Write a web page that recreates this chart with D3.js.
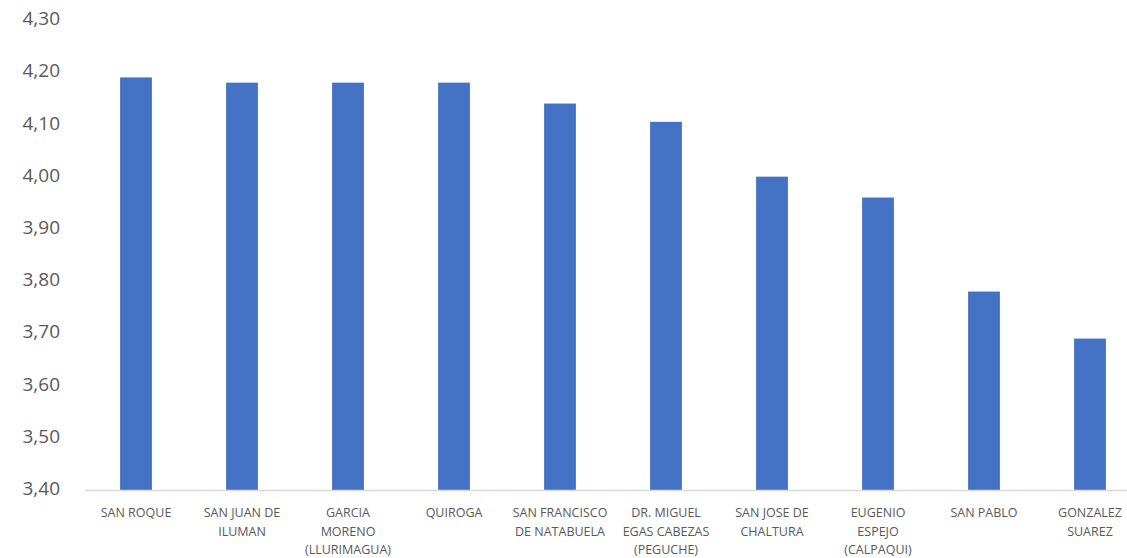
<!DOCTYPE html>
<meta charset="utf-8">
<script src="https://d3js.org/d3.v7.min.js"></script>
<style>
  body { margin: 0; background: #fff; }
  text { font-family: 'Open Sans', sans-serif; fill: #595959; }
</style>
<body>
<div id="my_dataviz"></div>
<script>

// categories (lines of each label) and values
var parishes = [
  ["SAN ROQUE"],
  ["SAN JUAN DE", "ILUMAN"],
  ["GARCIA", "MORENO", "(LLURIMAGUA)"],
  ["QUIROGA"],
  ["SAN FRANCISCO", "DE NATABUELA"],
  ["DR. MIGUEL", "EGAS CABEZAS", "(PEGUCHE)"],
  ["SAN JOSE DE", "CHALTURA"],
  ["EUGENIO", "ESPEJO", "(CALPAQUI)"],
  ["SAN PABLO"],
  ["GONZALEZ", "SUAREZ"]
];
var scores = [4.19, 4.18, 4.18, 4.18, 4.14, 4.105, 4.00, 3.96, 3.78, 3.69];
var yTicks = [3.4, 3.5, 3.6, 3.7, 3.8, 3.9, 4.0, 4.1, 4.2, 4.3];

var width = 1127, height = 558;
var plotLeft = 83, plotRight = 1143, plotTop = 20, plotBottom = 490;

var svg = d3.select("#my_dataviz")
  .append("svg")
    .attr("width", width)
    .attr("height", height);

var keys = parishes.map(function(d) { return d.join(" "); });

var x = d3.scaleBand()
  .domain(keys)
  .range([plotLeft, plotRight])
  .paddingInner(0.7)
  .paddingOuter(0.35);

var y = d3.scaleLinear()
  .domain([3.4, 4.3])
  .range([plotBottom, plotTop]);

// y tick labels (no axis line, no gridlines)
svg.append("g")
  .selectAll("text")
  .data(yTicks)
  .enter()
  .append("text")
    .attr("x", 60)
    .attr("y", function(d) { return y(d); })
    .attr("text-anchor", "end")
    .attr("dominant-baseline", "middle")
    .style("font-size", "19px")
    .text(function(d) { return d.toFixed(2).replace(".", ","); });

// bars
svg.append("g")
  .selectAll("rect")
  .data(scores)
  .enter()
  .append("rect")
    .attr("x", function(d, i) { return x(keys[i]); })
    .attr("y", function(d) { return y(d); })
    .attr("width", x.bandwidth())
    .attr("height", function(d) { return y(3.4) - y(d); })
    .attr("fill", "#4472C4");

// x axis line
svg.append("line")
  .attr("x1", 85).attr("x2", width)
  .attr("y1", plotBottom + 0.5).attr("y2", plotBottom + 0.5)
  .attr("stroke", "#d9d9d9")
  .attr("stroke-width", 1.5);

// category labels
var labels = svg.append("g")
  .selectAll("text")
  .data(parishes)
  .enter()
  .append("text")
    .attr("text-anchor", "middle")
    .style("font-size", "12.5px")
    .attr("transform", function(d, i) {
      return "translate(" + (x(keys[i]) + x.bandwidth() / 2) + "," + (plotBottom + 27) + ")";
    });

labels.selectAll("tspan")
  .data(function(d) { return d; })
  .enter()
  .append("tspan")
    .attr("x", 0)
    .attr("y", function(d, j) { return j * 18.5; })
    .text(function(d) { return d; });

</script>
</body>
